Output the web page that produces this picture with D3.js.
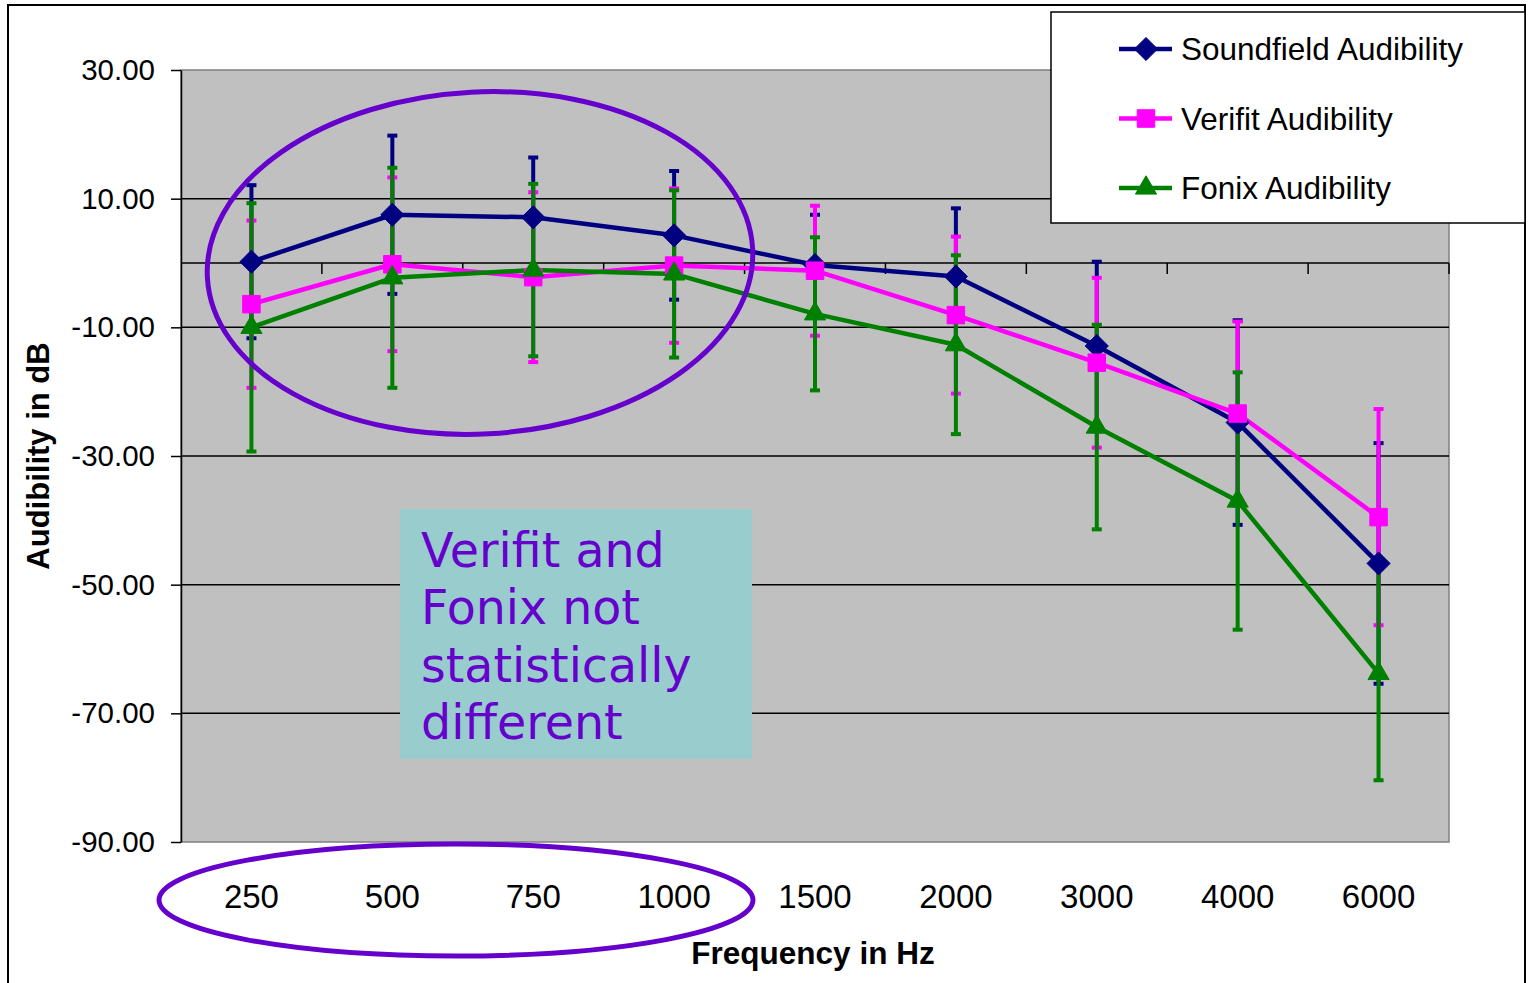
<!DOCTYPE html>
<html>
<head>
<meta charset="utf-8">
<script src="https://cdn.jsdelivr.net/npm/d3@7"></script>
<style>
    html, body { margin: 0; padding: 0; background: #ffffff; }
    svg { display: block; font-family: "Liberation Sans", Arial, sans-serif; }
</style>
</head>
<body>
<svg id="chart" width="1531" height="983"></svg>
<script>
// Data
var frequencies = ['250', '500', '750', '1000', '1500', '2000', '3000', '4000', '6000'];
var soundfieldMean = [0.2, 7.5, 7.1, 4.3, -0.3, -2.1, -12.9, -24.8, -46.7];
var soundfieldErr = [11.9, 12.3, 9.3, 10.0, 7.8, 10.6, 13.1, 15.9, 18.7];
var verifitMean = [-6.4, -0.2, -2.2, -0.4, -1.2, -8.1, -15.5, -23.4, -39.5];
var verifitErr = [13.0, 13.5, 13.2, 12.0, 10.1, 12.2, 13.2, 14.3, 16.8];
var fonixMean = [-10.0, -2.3, -1.1, -1.7, -7.9, -12.7, -25.5, -37.0, -63.8];
var fonixErr = [19.3, 17.1, 13.4, 13.0, 11.9, 13.9, 15.9, 20.0, 16.6];
var yTicks = [30, 10, -10, -30, -50, -70, -90];
var noteLines = ['Verifit and', 'Fonix not', 'statistically', 'different'];

var series = [
    {name: 'Soundfield Audibility', color: '#000080', symbol: 'diamond', mean: soundfieldMean, err: soundfieldErr},
    {name: 'Verifit Audibility', color: '#FF00FF', symbol: 'square', mean: verifitMean, err: verifitErr},
    {name: 'Fonix Audibility', color: '#008000', symbol: 'triangle', mean: fonixMean, err: fonixErr}
];

var graph = d3.select('#chart');

// Plot area
var pLeft = 181, pRight = 1449, pTop = 70, pBottom = 842;

// Scales:
var xScale = d3.scaleBand().domain(frequencies).range([pLeft, pRight]).paddingInner(0).paddingOuter(0);
var yScale = d3.scaleLinear().domain([-90, 30]).range([pBottom, pTop]);
var cx = (f) => xScale(f) + xScale.bandwidth() / 2;

// Outer frame
graph.append('rect').attr('x', 8).attr('y', 5).attr('width', 1517).attr('height', 990)
     .attr('fill', '#ffffff').attr('stroke', '#000000').attr('stroke-width', 2);

// Plot background
graph.append('rect').attr('x', pLeft).attr('y', pTop)
     .attr('width', pRight - pLeft).attr('height', pBottom - pTop)
     .attr('fill', '#C0C0C0').attr('stroke', '#808080').attr('stroke-width', 1.5);

// The grid:
graph.append('g').selectAll('line').data(yTicks.filter((d) => d > -90 && d < 30))
     .enter().append('line')
     .attr('x1', pLeft).attr('x2', pRight)
     .attr('y1', (d) => yScale(d)).attr('y2', (d) => yScale(d))
     .attr('stroke', '#000000').attr('stroke-width', 1.5);

// Y axis
var yAxis = graph.append('g').attr('transform', 'translate(' + pLeft + ',0)')
     .call(d3.axisLeft(yScale).tickValues(yTicks).tickFormat((d) => d.toFixed(2))
              .tickSizeInner(10).tickSizeOuter(0).tickPadding(16));
yAxis.select('.domain').attr('stroke', '#000000').attr('stroke-width', 1.5);
yAxis.selectAll('.tick line').attr('stroke-width', 1.5);
yAxis.selectAll('.tick text').attr('font-size', 29.5).attr('fill', '#000000')
     .attr('font-family', '"Liberation Sans", Arial, sans-serif');

// Zero line with category ticks
var zeroAxis = graph.append('g').attr('transform', 'translate(0,' + yScale(0) + ')');
zeroAxis.append('line').attr('x1', pLeft).attr('x2', pRight)
        .attr('stroke', '#000000').attr('stroke-width', 1.5);
zeroAxis.selectAll('.cattick').data(frequencies.slice(1).concat(['end']))
        .enter().append('line').classed('cattick', true)
        .attr('x1', (d) => d == 'end' ? pRight : xScale(d))
        .attr('x2', (d) => d == 'end' ? pRight : xScale(d))
        .attr('y1', 0).attr('y2', 11)
        .attr('stroke', '#000000').attr('stroke-width', 1.5);

// X axis labels (below the plot)
var xAxis = graph.append('g').attr('transform', 'translate(0,' + pBottom + ')')
     .call(d3.axisBottom(xScale).tickSize(0).tickPadding(0));
xAxis.select('.domain').remove();
xAxis.selectAll('.tick text').attr('font-size', 33).attr('fill', '#000000')
     .attr('y', 66).attr('dy', 0)
     .attr('font-family', '"Liberation Sans", Arial, sans-serif');

// Axis titles
graph.append('text').attr('x', (pLeft + pRight) / 2 - 2).attr('y', 964)
     .attr('text-anchor', 'middle').attr('font-size', 31.5).attr('font-weight', 'bold')
     .text('Frequency in Hz');
graph.append('text').attr('transform', 'translate(49,' + ((pTop + pBottom) / 2) + ') rotate(-90)')
     .attr('text-anchor', 'middle').attr('font-size', 31).attr('font-weight', 'bold')
     .text('Audibility in dB');

// Note box
var note = graph.append('g');
note.append('rect').attr('x', 400).attr('y', 509).attr('width', 352).attr('height', 250)
    .attr('fill', '#99CCCC');
note.selectAll('text').data(noteLines).enter().append('text')
    .attr('x', 421).attr('y', (d, i) => 567 + i * 57.3)
    .attr('font-family', '"DejaVu Sans", Verdana, sans-serif').attr('font-size', 47.5)
    .attr('fill', '#6600CC')
    .text((d) => d);

// Error bars
var capW = 10;
series.forEach(function(s) {
    var g = graph.append('g').classed('errbars', true);
    var rows = frequencies.map((f, i) => ({f: f, lo: s.mean[i] - s.err[i], hi: s.mean[i] + s.err[i]}));
    g.selectAll('line.bar').data(rows).enter().append('line').classed('bar', true)
     .attr('x1', (d) => cx(d.f)).attr('x2', (d) => cx(d.f))
     .attr('y1', (d) => yScale(d.hi)).attr('y2', (d) => yScale(d.lo))
     .attr('stroke', s.color).attr('stroke-width', 4);
    ['hi', 'lo'].forEach(function(k) {
        g.selectAll('line.cap' + k).data(rows).enter().append('line').classed('cap' + k, true)
         .attr('x1', (d) => cx(d.f) - capW / 2).attr('x2', (d) => cx(d.f) + capW / 2)
         .attr('y1', (d) => yScale(d[k])).attr('y2', (d) => yScale(d[k]))
         .attr('stroke', s.color).attr('stroke-width', 4);
    });
});

// Lines
var line = d3.line().x((d) => cx(d[0])).y((d) => yScale(d[1]));
series.forEach(function(s) {
    graph.append('path').datum(d3.zip(frequencies, s.mean))
         .attr('d', line).attr('fill', 'none')
         .attr('stroke', s.color).attr('stroke-width', 4.5).attr('stroke-linejoin', 'round');
});

// Markers
var symbols = {diamond: d3.symbolDiamond2, square: d3.symbolSquare2, triangle: d3.symbolTriangle2};
var sizes = {diamond: 340, square: 390, triangle: 320};
var symbolPath = function(g, s) {
    g.append('path').attr('d', d3.symbol().type(symbols[s.symbol]).size(sizes[s.symbol])())
     .attr('fill', s.color).attr('stroke', s.color).attr('stroke-width', 1);
};
series.forEach(function(s) {
    graph.append('g').selectAll('g').data(d3.zip(frequencies, s.mean)).enter().append('g')
         .attr('transform', (d) => 'translate(' + cx(d[0]) + ',' + yScale(d[1]) + ')')
         .each(function() { symbolPath(d3.select(this), s); });
});

// Highlight ellipses
graph.append('ellipse').attr('cx', 480).attr('cy', 263).attr('rx', 273).attr('ry', 171)
     .attr('transform', 'rotate(-3 480 263)')
     .attr('fill', 'none').attr('stroke', '#6600CC').attr('stroke-width', 5);
graph.append('ellipse').attr('cx', 456).attr('cy', 900).attr('rx', 297).attr('ry', 56)
     .attr('fill', 'none').attr('stroke', '#6600CC').attr('stroke-width', 5);

// Legend
var legend = graph.append('g');
legend.append('rect').attr('x', 1051).attr('y', 12).attr('width', 474).attr('height', 211)
      .attr('fill', '#ffffff').attr('stroke', '#000000').attr('stroke-width', 1.5);
var items = legend.selectAll('g.item').data(series).enter().append('g').classed('item', true)
      .attr('transform', (d, i) => 'translate(0,' + (49 + i * 69.5) + ')');
items.append('line').attr('x1', 1119).attr('x2', 1172)
     .attr('stroke', (d) => d.color).attr('stroke-width', 4.5);
items.append('g').attr('transform', 'translate(1146,0)')
     .each(function(d) { symbolPath(d3.select(this), d); });
items.append('text').attr('x', 1181).attr('y', 11).attr('font-size', 31.5)
     .attr('fill', '#000000').text((d) => d.name);
</script>
</body>
</html>
